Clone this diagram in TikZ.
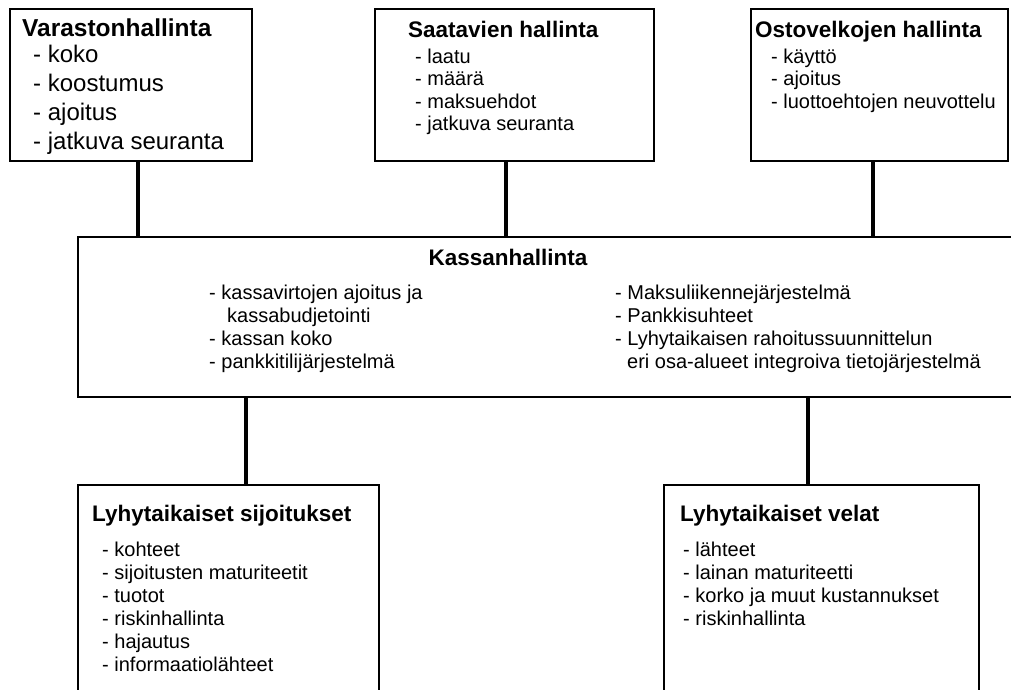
\documentclass[tikz,border=0pt]{standalone}
\usepackage{fontspec}
\setmainfont{Liberation Sans}

\tikzset{
  box/.style={draw, line width=1.6pt, anchor=north west, inner sep=0pt, fill=white},
  conn/.style={line width=4pt},
  boxtitle/.style={anchor=base west, inner sep=0pt, font=\fontsize{22.5}{26}\selectfont\bfseries},
  boxitem/.style={anchor=base west, inner sep=0pt, font=\fontsize{20}{23}\selectfont},
  bigtitle/.style={boxtitle, font=\fontsize{24.5}{28}\selectfont\bfseries},
  bigitem/.style={boxitem, font=\fontsize{24}{29}\selectfont},
}

\begin{document}
\begin{tikzpicture}[x=1pt,y=-1pt]
\useasboundingbox (0,0) rectangle (1011,689);
\clip (0,0) rectangle (1011,689);
% boxes
\node[box, minimum width=242pt, minimum height=152pt] (var) at (9,8) {};
\node[box, minimum width=279pt, minimum height=152pt] (saa) at (374,8) {};
\node[box, minimum width=257pt, minimum height=152pt] (ost) at (750,8) {};
\node[box, minimum width=950pt, minimum height=160pt] (kas) at (77,236) {};
\node[box, minimum width=301pt, minimum height=260pt] (sij) at (77,484) {};
\node[box, minimum width=315pt, minimum height=260pt] (vel) at (663,484) {};
% connectors
\draw[conn] ([xshift=7pt]var.south) -- ([xshift=7pt]var.south |- kas.north);
\draw[conn] ([xshift=-8.5pt]saa.south) -- ([xshift=-8.5pt]saa.south |- kas.north);
\draw[conn] ([xshift=-6.5pt]ost.south) -- ([xshift=-6.5pt]ost.south |- kas.north);
\draw[conn] ([xshift=17.5pt]sij.north) -- ([xshift=17.5pt]sij.north |- kas.south);
\draw[conn] ([xshift=-13.5pt]vel.north) -- ([xshift=-13.5pt]vel.north |- kas.south);
% Varastonhallinta
\node[bigtitle] (var-t) at (22,36) {Varastonhallinta};
\foreach \txt [count=\i] in {koko,koostumus,ajoitus,jatkuva seuranta}
  \node[bigitem] (var-\i) at (33,33+29*\i) {- \txt};
% Saatavien hallinta
\node[boxtitle] (saa-t) at (408,37) {Saatavien hallinta};
\foreach \txt [count=\i] in {laatu,määrä,maksuehdot,jatkuva seuranta}
  \node[boxitem] (saa-\i) at (415,40.5+22.5*\i) {- \txt};
% Ostovelkojen hallinta
\node[boxtitle] (ost-t) at (755,37) {Ostovelkojen hallinta};
\foreach \txt [count=\i] in {käyttö,ajoitus,luottoehtojen neuvottelu}
  \node[boxitem] (ost-\i) at (771,40.5+22.5*\i) {- \txt};
% Kassanhallinta
\node[boxtitle, anchor=base] (kas-t) at (508,265) {Kassanhallinta};
\node[boxitem] (kas-l1) at (209,299) {- kassavirtojen ajoitus ja};
\node[boxitem] (kas-l2) at (227,322) {kassabudjetointi};
\node[boxitem] (kas-l3) at (209,345) {- kassan koko};
\node[boxitem] (kas-l4) at (209,368) {- pankkitilijärjestelmä};
\node[boxitem] (kas-r1) at (615,299) {- Maksuliikennejärjestelmä};
\node[boxitem] (kas-r2) at (615,322) {- Pankkisuhteet};
\node[boxitem] (kas-r3) at (615,345) {- Lyhytaikaisen rahoitussuunnittelun};
\node[boxitem] (kas-r4) at (627,368) {eri osa-alueet integroiva tietojärjestelmä};
% Lyhytaikaiset sijoitukset
\node[boxtitle] (sij-t) at (92,521) {Lyhytaikaiset sijoitukset};
\foreach \txt [count=\i] in {kohteet,sijoitusten maturiteetit,tuotot,riskinhallinta,hajautus,informaatiolähteet}
  \node[boxitem] (sij-\i) at (102,533+23*\i) {- \txt};
% Lyhytaikaiset velat
\node[boxtitle] (vel-t) at (680,521) {Lyhytaikaiset velat};
\foreach \txt [count=\i] in {lähteet,lainan maturiteetti,korko ja muut kustannukset,riskinhallinta}
  \node[boxitem] (vel-\i) at (683,533+23*\i) {- \txt};
\end{tikzpicture}
\end{document}
